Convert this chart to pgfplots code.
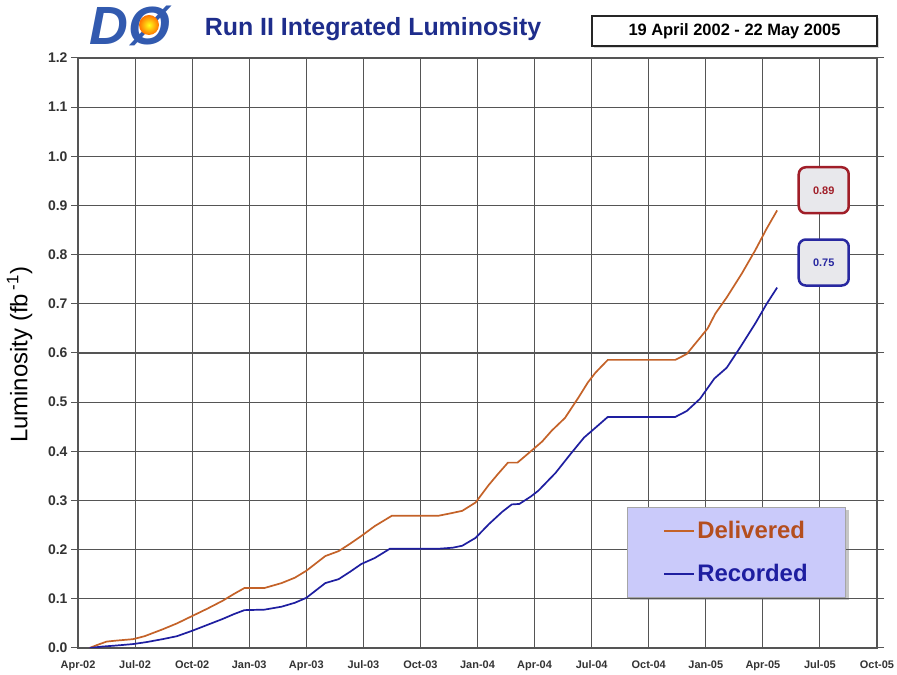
\documentclass[border=0pt]{standalone}
\usepackage{pgfplots}
\pgfplotsset{compat=1.18}
\usepackage{pgfplotstable}
\usepackage{fontspec}
\setmainfont{Liberation Sans}
\usetikzlibrary{shadows}
\pgfdeclarelayer{bg}
\pgfsetlayers{bg,main}
\definecolor{deliv}{RGB}{196,98,40}
\definecolor{delivtxt}{RGB}{180,78,30}
\definecolor{recor}{RGB}{30,30,160}
\definecolor{titleblue}{RGB}{30,45,140}
\definecolor{legfill}{RGB}{202,202,250}
\definecolor{gridc}{RGB}{85,85,85}
\definecolor{boxred}{RGB}{160,30,40}
\definecolor{boxblue}{RGB}{40,40,160}
\definecolor{boxfill}{RGB}{232,232,236}
\definecolor{logoblue}{RGB}{50,90,175}

\pgfplotstableread{
t v
0.6 0.000
1.0 0.006
1.5 0.013
2.0 0.015
2.9 0.018
3.5 0.024
4.45 0.038
5.2 0.050
6.0 0.065
6.8 0.080
7.6 0.096
8.2 0.110
8.75 0.122
9.8 0.122
10.7 0.132
11.4 0.143
12.0 0.157
12.6 0.175
13.0 0.187
13.7 0.197
14.3 0.212
14.9 0.228
15.6 0.248
16.5 0.269
18.95 0.269
19.6 0.274
20.2 0.279
20.9 0.296
21.6 0.332
22.1 0.355
22.6 0.377
23.1 0.377
23.8 0.400
24.4 0.420
24.9 0.442
25.6 0.468
26.3 0.509
26.8 0.540
27.2 0.560
27.85 0.586
31.4 0.586
32.0 0.598
32.7 0.631
33.1 0.650
33.5 0.680
34.1 0.713
34.9 0.762
35.6 0.809
36.2 0.853
36.75 0.890
}\delivered

\pgfplotstableread{
t v
0.6 0.000
1.3 0.003
2.0 0.005
2.9 0.008
3.6 0.012
4.45 0.018
5.2 0.024
6.0 0.035
6.8 0.047
7.6 0.059
8.2 0.069
8.75 0.077
9.8 0.078
10.7 0.084
11.4 0.092
12.0 0.102
12.6 0.120
13.0 0.132
13.7 0.140
14.3 0.155
14.9 0.171
15.6 0.183
16.4 0.202
19.0 0.202
19.7 0.204
20.2 0.208
20.9 0.224
21.6 0.252
22.3 0.277
22.8 0.292
23.2 0.293
23.8 0.308
24.2 0.320
25.1 0.356
25.9 0.395
26.6 0.428
27.2 0.448
27.85 0.470
31.4 0.470
32.0 0.482
32.7 0.507
33.45 0.548
34.1 0.570
34.8 0.611
35.6 0.660
36.2 0.700
36.75 0.733
}\recorded

\begin{document}
\begin{tikzpicture}[x=1bp,y=1bp]
\useasboundingbox (0,0) rectangle (897,675);
\begin{pgfonlayer}{bg}
\fill[white] (0,0) rectangle (897,675);
\end{pgfonlayer}
\begin{axis}[
  scale only axis, width=799bp, height=590bp,
  at={(78bp,27bp)}, anchor=south west,
  xmin=0, xmax=42, ymin=0, ymax=1.2,
  xtick={0,3,...,42},
  xticklabels={Apr-02,Jul-02,Oct-02,Jan-03,Apr-03,Jul-03,Oct-03,Jan-04,Apr-04,Jul-04,Oct-04,Jan-05,Apr-05,Jul-05,Oct-05},
  ytick={0,0.1,0.2,0.3,0.4,0.5,0.6,0.7,0.8,0.9,1.0,1.1,1.2},
  /pgf/number format/assume math mode=true,
  /pgf/number format/fixed,
  /pgf/number format/fixed zerofill,
  /pgf/number format/precision=1,
  yticklabel style={font=\bfseries\fontsize{14}{16}\selectfont, text=black!80},
  xticklabel style={font=\bfseries\fontsize{11}{13}\selectfont, text=black!80, anchor=north, text height=8bp, text depth=2bp, yshift=-2bp},
  tick align=outside,
  major tick length=7bp,
  xtick style={draw=none},
  ytick style={draw=gridc, line width=1bp},
  grid=major,
  major grid style={draw=gridc, line width=1.1bp},
  axis line style={draw=gridc, line width=1.1bp},
  ylabel={Luminosity (fb\,\textsuperscript{-1})},
  ylabel style={at={(axis description cs:-0.073,0.497)}, anchor=center, font=\fontsize{24}{28}\selectfont},
  legend style={name=leg, at={(0.961,0.086)}, anchor=south east, fill=legfill, draw=gray!70,
    font=\bfseries\fontsize{24}{28}\selectfont, inner xsep=36bp, inner ysep=12bp, row sep=20bp},
  legend cell align=left,
  legend image code/.code={\draw[line width=2bp] (0bp,0bp) -- (30bp,0bp);},
]
\addplot[deliv, line width=1.7bp] table[x=t, y=v] {\delivered};
\addlegendentry{\textcolor{delivtxt}{Delivered}}
\addplot[recor, line width=1.7bp] table[x=t, y=v] {\recorded};
\addlegendentry{\textcolor{recor}{Recorded}}
\node[draw=boxred, line width=2.5bp, rounded corners=7bp, fill=boxfill, minimum width=50bp, minimum height=46bp,
  font=\bfseries\fontsize{11}{13}\selectfont, text=boxred] at (axis cs:39.2,0.931) {0.89};
\node[draw=boxblue, line width=2.5bp, rounded corners=7bp, fill=boxfill, minimum width=50bp, minimum height=46bp,
  font=\bfseries\fontsize{11}{13}\selectfont, text=boxblue] at (axis cs:39.2,0.784) {0.75};
\end{axis}
\begin{pgfonlayer}{bg}
\fill[gray!45] ([xshift=3bp,yshift=-3bp]leg.south west) rectangle ([xshift=3bp,yshift=-3bp]leg.north east);
\end{pgfonlayer}
% title
\node[font=\bfseries\fontsize{25}{29}\selectfont, text=titleblue, anchor=base] at (373,639) {Run II Integrated Luminosity};
% date box
\node[draw=black!85, line width=1.6bp, fill=white, minimum width=285bp, minimum height=30bp,
  drop shadow={shadow xshift=2bp, shadow yshift=-2bp, fill=gray!60},
  font=\bfseries\fontsize{16.5}{19}\selectfont] at (734.5,644) {19 April 2002 - 22 May 2005};
% logo
\node[font=\bfseries\itshape\fontsize{54}{56}\selectfont, text=logoblue] at (130,649) {DØ};
\shade[inner color=yellow!90!white, outer color=orange!90!red] (149,650) circle (10bp);
\end{tikzpicture}
\end{document}
